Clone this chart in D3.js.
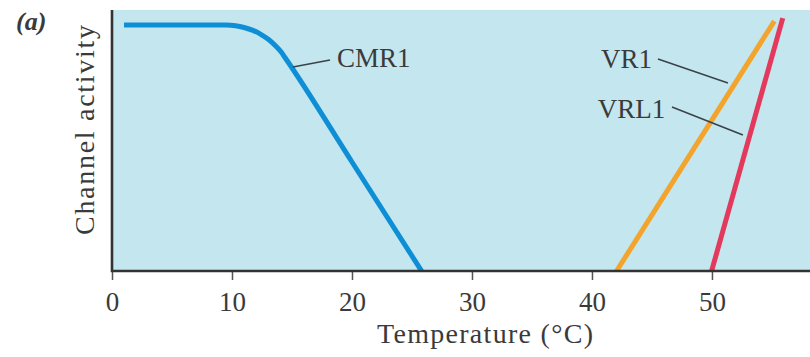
<!DOCTYPE html>
<html>
<head>
<meta charset="utf-8">
<script src="https://cdn.jsdelivr.net/npm/d3@7"></script>
<style>
  body { margin: 0; background: #fff; }
  svg text { font-family: "Liberation Serif", "Times New Roman", serif; fill: #3a3a3a; }
</style>
</head>
<body>
<svg id="chart"></svg>
<script>
// temperature (°C) vs relative channel activity
const cmr1 = [[1, 1], [9.5, 1], [10.3, 0.997], [11.0, 0.99], [11.75, 0.978], [12.4, 0.962],
  [13.05, 0.941], [13.6, 0.917], [14.1, 0.89], [14.4, 0.869], [20, 0.443], [25.8, 0]];
const vr1 = [[42.05, 0], [55.2, 1.016]];
const vrl1 = [[49.97, 0], [55.9, 1.028]];
const xTicks = [0, 10, 20, 30, 40, 50];

const series = [
  { name: "CMR1", data: cmr1, color: "#0e8fd5" },
  { name: "VR1", data: vr1, color: "#f3a42c" },
  { name: "VRL1", data: vrl1, color: "#e2395c" }
];

// label text position + leader line, in data units
const labels = [
  { text: "CMR1", at: [18.75, 0.83], anchor: "start", from: [15.08, 0.829], to: [18.17, 0.858] },
  { text: "VR1", at: [45.0, 0.825], anchor: "end", from: [45.5, 0.862], to: [51.33, 0.764] },
  { text: "VRL1", at: [46.1, 0.622], anchor: "end", from: [46.67, 0.667], to: [52.58, 0.553] }
];

const size = { width: 810, height: 357 };
const margin = { left: 112, right: 0, top: 10, bottom: 86 };

const svg = d3.select("#chart")
  .attr("width", size.width)
  .attr("height", size.height);

const x = d3.scaleLinear([0, 58.17], [margin.left, size.width - margin.right]);
const y = d3.scaleLinear([0, 1], [271, 25]);

// plot background
svg.append("rect")
  .attr("x", x(0))
  .attr("y", margin.top)
  .attr("width", x.range()[1] - x(0))
  .attr("height", y(0) - margin.top)
  .attr("fill", "#c4e6ef");

const line = d3.line().x(d => x(d[0])).y(d => y(d[1])).curve(d3.curveMonotoneX);

svg.append("g")
  .selectAll("path")
  .data(series)
  .join("path")
  .attr("d", d => line(d.data))
  .attr("fill", "none")
  .attr("stroke", d => d.color)
  .attr("stroke-width", 5);

// leader lines + labels
const lab = svg.append("g");
lab.selectAll("line")
  .data(labels)
  .join("line")
  .attr("x1", d => x(d.from[0]))
  .attr("y1", d => y(d.from[1]))
  .attr("x2", d => x(d.to[0]))
  .attr("y2", d => y(d.to[1]))
  .attr("stroke", "#3a4448")
  .attr("stroke-width", 1.6);
lab.selectAll("text")
  .data(labels)
  .join("text")
  .attr("x", d => x(d.at[0]))
  .attr("y", d => y(d.at[1]))
  .attr("text-anchor", d => d.anchor)
  .attr("font-size", 27)
  .text(d => d.text);

// axes
const xAxis = svg.append("g")
  .attr("transform", `translate(0,${y(0)})`)
  .call(d3.axisBottom(x).tickValues(xTicks).tickSize(9).tickPadding(12).tickFormat(d3.format("d")));
xAxis.select(".domain").remove();
xAxis.selectAll(".tick line").attr("stroke", "#555").attr("stroke-width", 1.5);
xAxis.selectAll(".tick text")
  .attr("font-size", 27)
  .attr("font-family", "Liberation Serif, serif")
  .attr("fill", "#3a3a3a");

svg.append("path")
  .attr("d", `M${x(0)},${margin.top}V${y(0)}H${x.range()[1]}`)
  .attr("fill", "none")
  .attr("stroke", "#333")
  .attr("stroke-width", 2.6);

// titles
svg.append("text")
  .attr("x", 485)
  .attr("y", 343)
  .attr("text-anchor", "middle")
  .attr("font-size", 28)
  .attr("textLength", 216)
  .attr("lengthAdjust", "spacing")
  .text("Temperature (°C)");

svg.append("text")
  .attr("transform", "translate(94,130) rotate(-90)")
  .attr("text-anchor", "middle")
  .attr("font-size", 28)
  .attr("textLength", 210)
  .attr("lengthAdjust", "spacing")
  .text("Channel activity");

svg.append("text")
  .attr("x", 16)
  .attr("y", 30)
  .attr("font-size", 26)
  .attr("font-weight", "bold")
  .attr("font-style", "italic")
  .text("(a)");
</script>
</body>
</html>
